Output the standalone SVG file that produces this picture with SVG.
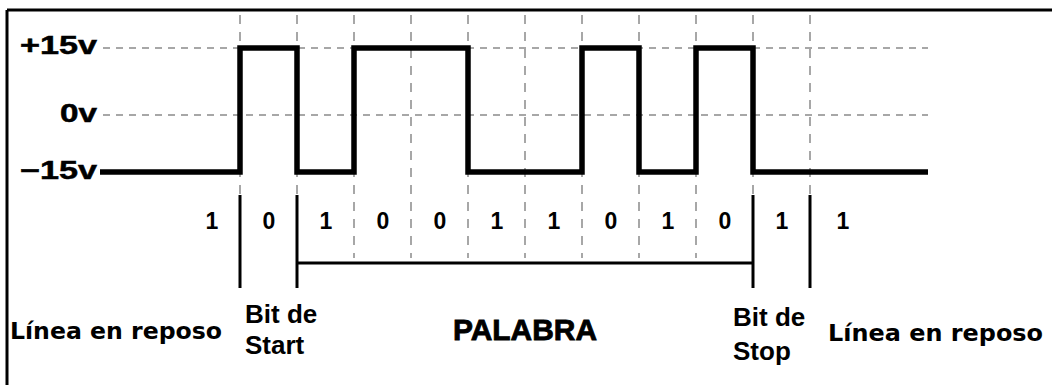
<svg xmlns="http://www.w3.org/2000/svg" width="1052" height="385" viewBox="0 0 1052 385">
<style>
.grid{stroke:#8a8a8a;stroke-width:1.5;stroke-dasharray:7,6;fill:none}
.vgrid{stroke:#8a8a8a;stroke-width:1.5;stroke-dasharray:9,8;fill:none}
.solid{stroke:#000;stroke-width:3;fill:none}
.sig{stroke:#000;stroke-width:5.5;fill:none;stroke-linejoin:miter;stroke-linecap:butt}
.volt{font-family:"Liberation Sans",Arial,sans-serif;font-weight:bold;font-size:25px;fill:#000;stroke:#000;stroke-width:0.5}
.bit{font-family:"Liberation Sans",Arial,sans-serif;font-weight:bold;font-size:23px;fill:#000;text-anchor:middle}
.lab{font-family:"Liberation Sans",Arial,sans-serif;font-weight:bold;font-size:26px;fill:#000}
.idle{font-family:"DejaVu Sans",Verdana,sans-serif;font-weight:bold;font-size:23.5px;fill:#000}
.word{font-family:"Liberation Sans",Arial,sans-serif;font-weight:bold;font-size:29px;fill:#000;stroke:#000;stroke-width:0.8}
</style>
<rect width="1052" height="385" fill="#fff"/>
<g id="frame">
<line x1="7" y1="10" x2="1052" y2="10" class="solid"/>
<line x1="7" y1="10" x2="7" y2="385" class="solid"/>
</g>
<g id="grid">
<line x1="103" y1="48" x2="928" y2="48" class="grid"/>
<line x1="103" y1="115" x2="928" y2="115" class="grid"/>
<line x1="240" y1="15" x2="240" y2="195" class="vgrid"/>
<line x1="297" y1="15" x2="297" y2="195" class="vgrid"/>
<line x1="354" y1="15" x2="354" y2="258" class="vgrid"/>
<line x1="411" y1="15" x2="411" y2="258" class="vgrid"/>
<line x1="468" y1="15" x2="468" y2="258" class="vgrid"/>
<line x1="525" y1="15" x2="525" y2="258" class="vgrid"/>
<line x1="582" y1="15" x2="582" y2="258" class="vgrid"/>
<line x1="639" y1="15" x2="639" y2="258" class="vgrid"/>
<line x1="696" y1="15" x2="696" y2="258" class="vgrid"/>
<line x1="753" y1="15" x2="753" y2="195" class="vgrid"/>
<line x1="810" y1="15" x2="810" y2="195" class="vgrid"/>
</g>
<g id="signal">
<path class="sig" d="M100 172 H240 V48 H297 V172 H354 V48 H468 V172 H582 V48 H639 V172 H696 V48 H753 V172 H928"/>
</g>
<g id="voltage-labels">
<text class="volt" x="20" y="54" textLength="77" lengthAdjust="spacingAndGlyphs">+15v</text>
<text class="volt" x="60" y="122" textLength="37" lengthAdjust="spacingAndGlyphs">0v</text>
<text class="volt" x="20" y="179" textLength="77" lengthAdjust="spacingAndGlyphs">−15v</text>
</g>
<g id="bits">
<text class="bit" x="212" y="229">1</text>
<text class="bit" x="269" y="229">0</text>
<text class="bit" x="326" y="229">1</text>
<text class="bit" x="383" y="229">0</text>
<text class="bit" x="440" y="229">0</text>
<text class="bit" x="497" y="229">1</text>
<text class="bit" x="554" y="229">1</text>
<text class="bit" x="611" y="229">0</text>
<text class="bit" x="668" y="229">1</text>
<text class="bit" x="725" y="229">0</text>
<text class="bit" x="782" y="229">1</text>
<text class="bit" x="843" y="229">1</text>
</g>
<g id="connectors">
<line x1="240" y1="195" x2="240" y2="288" class="solid"/>
<line x1="297" y1="195" x2="297" y2="288" class="solid"/>
<line x1="753" y1="195" x2="753" y2="288" class="solid"/>
<line x1="810" y1="195" x2="810" y2="288" class="solid"/>
<line x1="297" y1="263" x2="753" y2="263" class="solid"/>
</g>
<g id="idle-left">
<text class="idle" x="10" y="339" textLength="212" lengthAdjust="spacingAndGlyphs">Línea en reposo</text>
</g>
<g id="start-bit">
<text class="lab" x="245" y="323">Bit de</text>
<text class="lab" x="245" y="354">Start</text>
</g>
<g id="word">
<text class="word" x="453" y="340" textLength="144" lengthAdjust="spacingAndGlyphs">PALABRA</text>
</g>
<g id="stop-bit">
<text class="lab" x="733" y="326">Bit de</text>
<text class="lab" x="733" y="360">Stop</text>
</g>
<g id="idle-right">
<text class="idle" x="828" y="341" textLength="215" lengthAdjust="spacingAndGlyphs">Línea en reposo</text>
</g>
</svg>
